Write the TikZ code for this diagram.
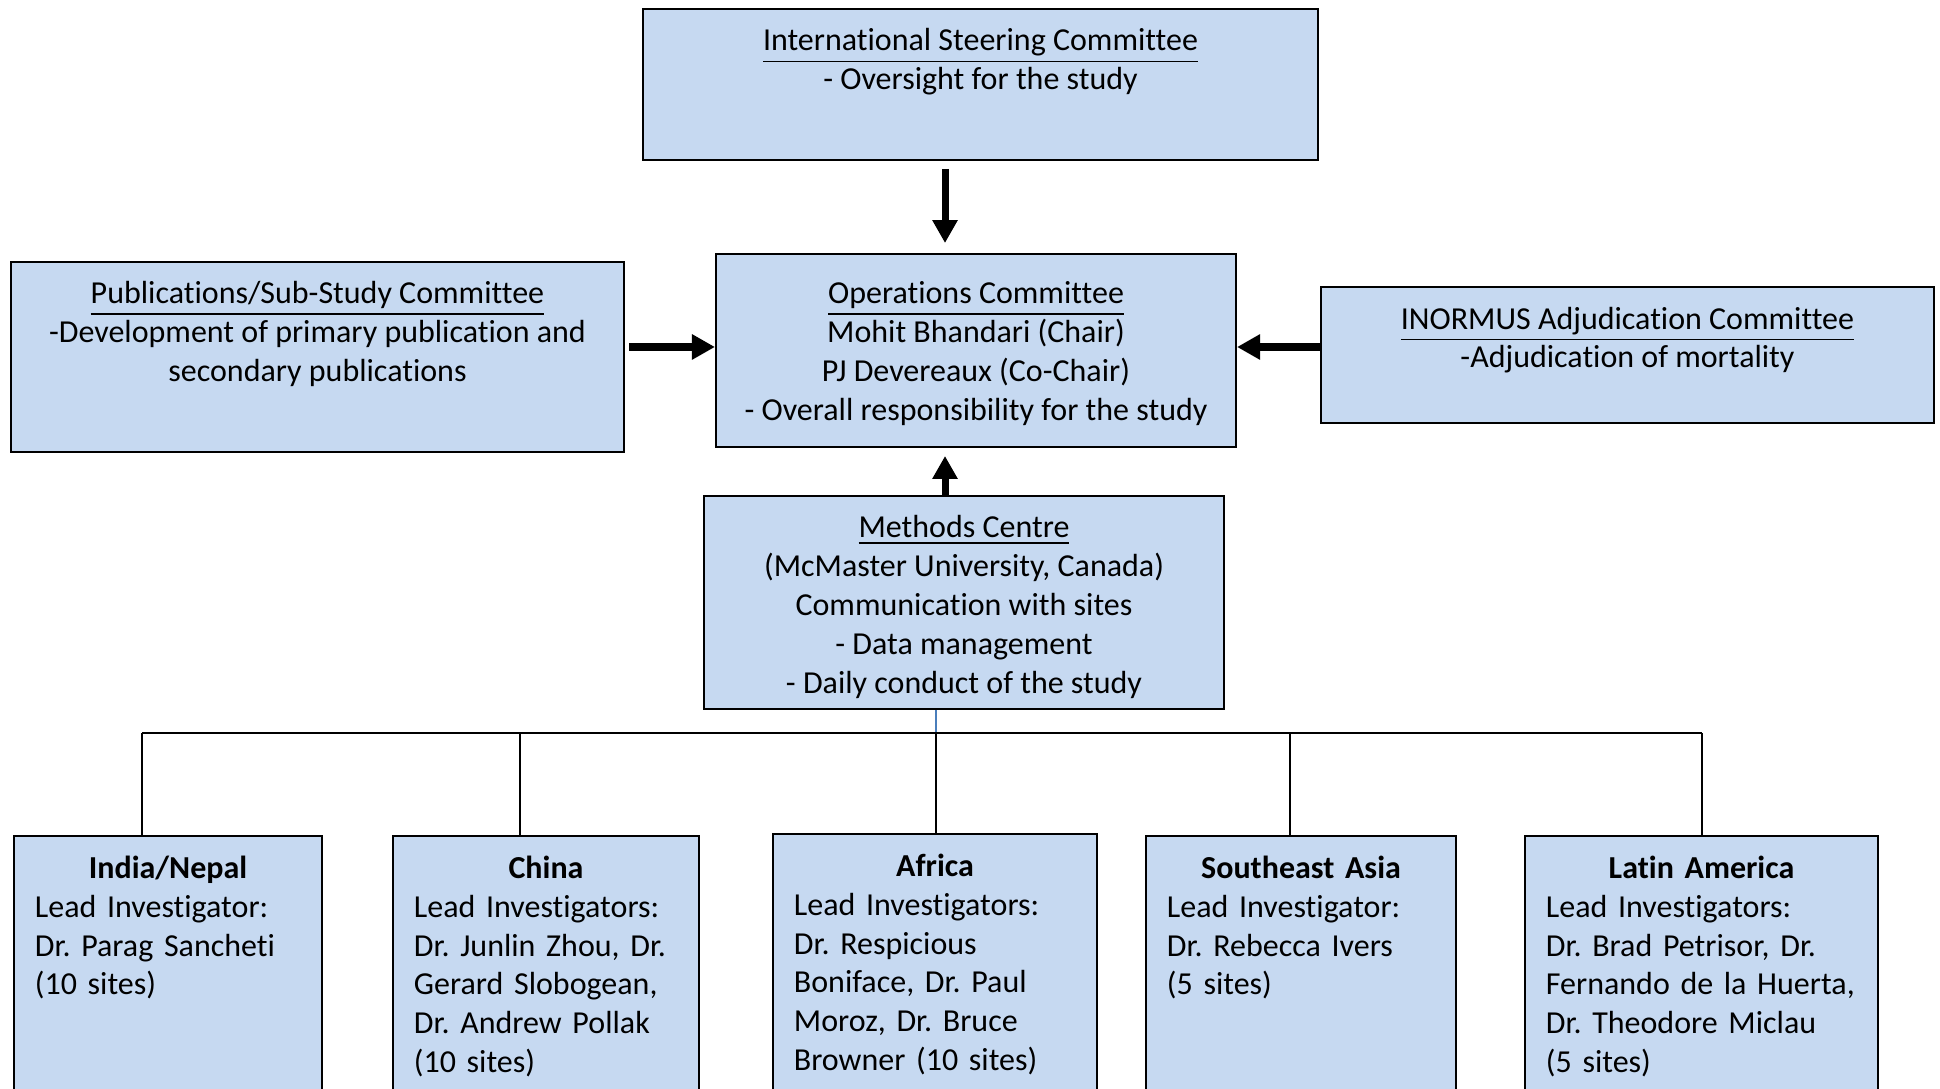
\documentclass[tikz,border=0pt]{standalone}
\usepackage{fontspec}
\setmainfont{Carlito}[Ligatures=NoCommon]
\usepackage{xcolor}
\usetikzlibrary{arrows.meta,calc,positioning}
\definecolor{boxblue}{HTML}{C6D9F1}
\definecolor{linkblue}{HTML}{4A7EBB}
\frenchspacing

\begin{document}
\begin{tikzpicture}[x=0.01cm,y=-0.01cm]
	\tikzstyle{every node}+=[inner sep=0pt, font=\fontsize{9.1}{11.07}\selectfont]
	\tikzstyle{box}=[draw=black, fill=boxblue, line width=0.5pt]
	\tikzstyle{txt}=[align=center]
	\tikzstyle{sitetxt}=[align=left]
	\tikzstyle{bigarrow}=[black, line width=2pt, -{Triangle[length=0.23cm,width=0.24cm]}]
	\tikzstyle{link}=[black, line width=0.45pt]
	\clip (0,0) rectangle (1940,1089);
	\node [box, minimum width=6.75cm, minimum height=1.51cm] (isc) at (980.5,84.5) {};
	\node [txt, below=0.20cm of isc.north] (iscT) {\underline{International Steering Committee}\\- Oversight for the study};
	\node [box, minimum width=5.20cm, minimum height=1.93cm] (ops) at (976,350.5) {};
	\node [txt, below=0.28cm of ops.north] (opsT) {\underline{Operations Committee}\\Mohit Bhandari (Chair)\\PJ Devereaux (Co-Chair)\\- Overall responsibility for the study};
	\node [box, minimum width=6.13cm, minimum height=1.90cm] (pub) at (317.5,357) {};
	\node [txt, below=0.20cm of pub.north] (pubT) {\underline{Publications/Sub-Study Committee}\\-Development of primary publication and\\secondary publications};
	\node [box, minimum width=6.13cm, minimum height=1.36cm] (adj) at (1627.5,355) {};
	\node [txt, below=0.20cm of adj.north] (adjT) {\underline{INORMUS Adjudication Committee}\\-Adjudication of mortality};
	\node [box, minimum width=5.20cm, minimum height=2.13cm] (methods) at (964,602.5) {};
	\node [txt, below=0.20cm of methods.north] (methodsT) {\underline{Methods Centre}\\(McMaster University, Canada)\\Communication with sites\\- Data management\\- Daily conduct of the study};
	\node [box, minimum width=3.08cm, minimum height=3.64cm] (india) at (168,1018) {};
	\node [sitetxt, text width=2.66cm, below=0.20cm of india.north] (indiaT) {\makebox[\linewidth][c]{\textbf{India/Nepal}}\\Lead Investigator:\\Dr. Parag Sancheti\\(10 sites)};
	\node [box, minimum width=3.06cm, minimum height=3.64cm] (china) at (546,1018) {};
	\node [sitetxt, text width=2.64cm, below=0.20cm of china.north] (chinaT) {\makebox[\linewidth][c]{\textbf{China}}\\Lead Investigators:\\Dr. Junlin Zhou, Dr.\\Gerard Slobogean,\\Dr. Andrew Pollak\\(10 sites)};
	\node [box, minimum width=3.24cm, minimum height=3.66cm] (africa) at (935,1017) {};
	\node [sitetxt, text width=2.82cm, below=0.20cm of africa.north] (africaT) {\makebox[\linewidth][c]{\textbf{Africa}}\\Lead Investigators:\\Dr. Respicious\\Boniface, Dr. Paul\\Moroz, Dr. Bruce\\Browner (10 sites)};
	\node [box, minimum width=3.10cm, minimum height=3.64cm] (sea) at (1301,1018) {};
	\node [sitetxt, text width=2.68cm, below=0.20cm of sea.north] (seaT) {\makebox[\linewidth][c]{\textbf{Southeast Asia}}\\Lead Investigator:\\Dr. Rebecca Ivers\\(5 sites)};
	\node [box, minimum width=3.53cm, minimum height=3.64cm] (latam) at (1701.5,1018) {};
	\node [sitetxt, text width=3.11cm, below=0.20cm of latam.north] (latamT) {\makebox[\linewidth][c]{\textbf{Latin America}}\\Lead Investigators:\\Dr. Brad Petrisor, Dr.\\Fernando de la Huerta,\\Dr. Theodore Miclau\\(5 sites)};
	\coordinate (axis) at (945,0);
	\coordinate (row) at (0,347);
	\draw [bigarrow] ($(isc.south -| axis)+(0,8)$) -- ($(ops.north -| axis)+(0,-10)$);
	\draw [bigarrow] ($(pub.east |- row)+(4,0)$) -- (ops.west |- row);
	\draw [bigarrow] (adj.west |- row) -- (ops.east |- row);
	\draw [bigarrow] (methods.north -| axis) -- ($(ops.south -| axis)+(0,8)$);
	\coordinate (bus) at (936,733);
	\coordinate (busW) at (142,733);
	\coordinate (jCN) at (520,733);
	\coordinate (jSEA) at (1290,733);
	\coordinate (busE) at (1702,733);
	\draw [linkblue, line width=0.45pt] (methods.south -| bus) -- (bus);
	\draw [link] (busW) -- (busE);
	\draw [link] (busW) -- (busW |- india.north);
	\draw [link] (jCN) -- (jCN |- china.north);
	\draw [link] (bus) -- (bus |- africa.north);
	\draw [link] (jSEA) -- (jSEA |- sea.north);
	\draw [link] (busE) -- (busE |- latam.north);
\end{tikzpicture}
\end{document}
